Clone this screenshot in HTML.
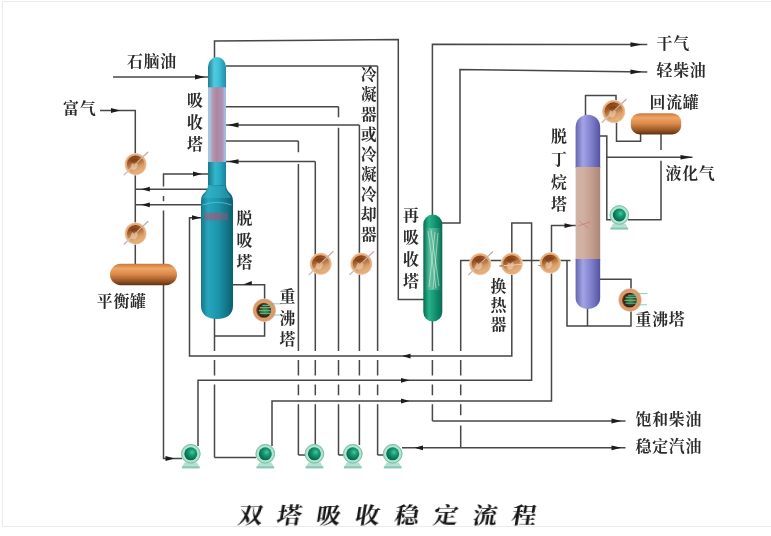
<!DOCTYPE html>
<html lang="zh-CN">
<head>
<meta charset="utf-8">
<title>双塔吸收稳定流程</title>
<style>
html,body{margin:0;padding:0;background:#fff;}
body{width:771px;height:536px;overflow:hidden;position:relative;}
svg{display:block;position:absolute;left:0;top:0;}
.lbl text{font-family:"Liberation Serif","Noto Serif CJK SC",serif;font-weight:700;fill:#2c2c2c;}
.title{font-family:"Liberation Serif","Noto Serif CJK SC",serif;font-weight:700;fill:#151515;}
</style>
</head>
<body>
<svg width="771" height="536" viewBox="0 0 771 536">
<defs>
  <linearGradient id="gTealCap" x1="0" x2="1" y1="0" y2="0">
    <stop offset="0" stop-color="#1c7f90"/><stop offset=".35" stop-color="#4fcbe0"/><stop offset=".6" stop-color="#3fc0d8"/><stop offset="1" stop-color="#1f8fa6"/>
  </linearGradient>
  <linearGradient id="gTealN" x1="0" x2="1" y1="0" y2="0">
    <stop offset="0" stop-color="#19788a"/><stop offset=".4" stop-color="#35b6cd"/><stop offset=".65" stop-color="#2aa9c2"/><stop offset="1" stop-color="#17839a"/>
  </linearGradient>
  <linearGradient id="gTealW" x1="0" x2="1" y1="0" y2="0">
    <stop offset="0" stop-color="#167688"/><stop offset=".22" stop-color="#27a6bd"/><stop offset=".55" stop-color="#1b93aa"/><stop offset="1" stop-color="#0d5f70"/>
  </linearGradient>
  <linearGradient id="gPack1" x1="0" x2="1" y1="0" y2="0">
    <stop offset="0" stop-color="#9acfe8"/><stop offset=".13" stop-color="#acbcd6"/><stop offset=".27" stop-color="#b396b4"/><stop offset=".5" stop-color="#ae84a0"/><stop offset=".8" stop-color="#ae92b4"/><stop offset=".92" stop-color="#a6b8d6"/><stop offset="1" stop-color="#90c8e6"/>
  </linearGradient>
  <linearGradient id="gGreen" x1="0" x2="1" y1="0" y2="0">
    <stop offset="0" stop-color="#0a6a52"/><stop offset=".3" stop-color="#27b389"/><stop offset=".6" stop-color="#129572"/><stop offset="1" stop-color="#0a6a52"/>
  </linearGradient>
  <linearGradient id="gGreenMid" x1="0" x2="1" y1="0" y2="0">
    <stop offset="0" stop-color="#2a8a6c"/><stop offset=".35" stop-color="#a9d9c4"/><stop offset=".65" stop-color="#7fc4a8"/><stop offset="1" stop-color="#1d8263"/>
  </linearGradient>
  <linearGradient id="gPurple" x1="0" x2="1" y1="0" y2="0">
    <stop offset="0" stop-color="#6664ae"/><stop offset=".3" stop-color="#a3a3e6"/><stop offset=".6" stop-color="#8383cf"/><stop offset="1" stop-color="#5654a0"/>
  </linearGradient>
  <linearGradient id="gPack2" x1="0" x2="1" y1="0" y2="0">
    <stop offset="0" stop-color="#cdb3a6"/><stop offset=".3" stop-color="#d2b0a2"/><stop offset=".65" stop-color="#c49e90"/><stop offset="1" stop-color="#a98677"/>
  </linearGradient>
  <linearGradient id="gTank" x1="0" x2="0" y1="0" y2="1">
    <stop offset="0" stop-color="#c97a3e"/><stop offset=".22" stop-color="#f0a565"/><stop offset=".5" stop-color="#d98848"/><stop offset=".8" stop-color="#9a5626"/><stop offset="1" stop-color="#5d3215"/>
  </linearGradient>
  <radialGradient id="gEx" cx=".5" cy=".5" r=".5">
    <stop offset="0" stop-color="#d9a067"/><stop offset=".72" stop-color="#dfa570"/><stop offset=".88" stop-color="#e5ae80"/><stop offset=".95" stop-color="#efc9a8"/><stop offset="1" stop-color="#fbeee2"/>
  </radialGradient>
  <linearGradient id="gExIn" x1=".25" x2=".65" y1="0" y2="1">
    <stop offset="0" stop-color="#7a3610"/><stop offset=".35" stop-color="#a55f2c"/><stop offset=".7" stop-color="#d79c62"/><stop offset="1" stop-color="#e6b684"/>
  </linearGradient>
  <radialGradient id="gRb" cx=".5" cy=".5" r=".5">
    <stop offset="0" stop-color="#c98a55"/><stop offset=".7" stop-color="#d6a06c"/><stop offset=".9" stop-color="#dc9670"/><stop offset="1" stop-color="#f3cdb0"/>
  </radialGradient>
  <radialGradient id="gRbIn" cx=".58" cy=".5" r=".52">
    <stop offset="0" stop-color="#4f9a63"/><stop offset=".5" stop-color="#2f5a35"/><stop offset=".85" stop-color="#3a1c0c"/><stop offset="1" stop-color="#6b3a1c"/>
  </radialGradient>
  <radialGradient id="gPuO" cx=".5" cy=".5" r=".5">
    <stop offset="0" stop-color="#c4ebdc"/><stop offset=".8" stop-color="#b3e3d2"/><stop offset="1" stop-color="#9ad4bd"/>
  </radialGradient>
  <radialGradient id="gPuI" cx=".6" cy=".38" r=".62">
    <stop offset="0" stop-color="#46c9a0"/><stop offset=".4" stop-color="#159a72"/><stop offset="1" stop-color="#09644a"/>
  </radialGradient>
  <filter id="soft" x="-2%" y="-2%" width="104%" height="104%"><feGaussianBlur stdDeviation="0.45"/></filter>
</defs>
<rect x="0" y="0" width="771" height="536" fill="#ffffff"/>
<!-- frame -->
<path d="M771,1.5 H2.5 V526.5 H771" fill="none" stroke="#ececea" stroke-width="1.2"/>

<g filter="url(#soft)">
<!-- pipes -->
<g fill="none" stroke="#464646" stroke-width="1.5" stroke-linecap="butt" stroke-linejoin="miter">
<path d="M113,77 L208,77"/>
<path d="M100,110.5 L135.3,110.5 L135.3,265"/>
<path d="M214.5,58 L214.5,41 L398.3,39.5 L398.3,299.5 L424,299.5"/>
<path d="M226,66 L377.6,66"/>
<path d="M377.6,66 V350.9 M377.6,359.9 V375.5 M377.6,384.5 V395.3 M377.6,404.3 V455"/>
<path d="M377.6,455 L386,455"/>
<path d="M226,106.8 L338.5,106.8"/>
<path d="M338.5,106.8 V117.3 M338.5,127.7 V350.9 M338.5,359.9 V375.5 M338.5,384.5 V395.3 M338.5,404.3 V455"/>
<path d="M338.5,455 L346,455"/>
<path d="M226,125 L359.4,125"/>
<path d="M359.4,125 V350.9 M359.4,359.9 V375.5 M359.4,384.5 V395.3 M359.4,404.3 V445"/>
<path d="M226,141 L298.4,141"/>
<path d="M298.4,141 V152.3 M298.4,164.1 V350.9 M298.4,359.9 V375.5 M298.4,384.5 V395.3 M298.4,404.3 V455"/>
<path d="M298.4,455 L306,455"/>
<path d="M226,161.6 L315.3,161.6"/>
<path d="M315.3,161.6 V350.9 M315.3,359.9 V375.5 M315.3,384.5 V395.3 M315.3,404.3 V445"/>
<path d="M163.5,186.6 L163.5,174 L208,174"/>
<path d="M163.5,196 L163.5,201.2"/>
<path d="M163.5,210.5 L163.5,458.5 L182,458.5"/>
<path d="M209,189.2 L135.3,189.2"/>
<path d="M202,204.8 L135.3,204.8"/>
<path d="M203,217.7 L189.5,217.7 L189.5,356.1 L511.8,356.1 L511.8,223 L531.6,223 L531.6,380.3 L198,380.3 L198,446"/>
<path d="M214.5,318 V350.9 M214.5,359.9 V375.5 M214.5,384.5 V457.5"/>
<path d="M214.5,457.5 L256,457.5"/>
<path d="M214.5,336 L264.6,336 L264.6,284.7 L232.5,284.7"/>
<path d="M272,446 L272,401 L551.5,401 L551.5,225.6 L576,225.6"/>
<path d="M432.4,215 L432.4,44.2 L647.3,44.6"/>
<path d="M442,223 L460,223 L460,69.6 L647.3,71.9"/>
<path d="M432.4,321 V350.9 M432.4,359.9 V375.5 M432.4,384.5 V395.3 M432.4,404.3 V421"/>
<path d="M432.4,421 L625.5,421"/>
<path d="M460.7,260.5 V350.9 M460.7,359.9 V375.5 M460.7,384.5 V395.3 M460.7,404.3 V415.2 M460.7,425.6 V447.8"/>
<path d="M402,447.8 L625.5,447.8"/>
<path d="M460.7,261 L460.7,260.5 L570.5,260.5"/>
<path d="M567,260.5 L567,326 L631,326 L631,311"/>
<path d="M587.5,308 L587.5,326"/>
<path d="M600,279.3 L631,279.3 L631,290"/>
<path d="M585.5,116 L585.5,95.6 L616,95.6 L616,101"/>
<path d="M616.5,122 L616.5,141.3 L640.6,141.3 L640.6,133"/>
<path d="M661,133 L661,150"/>
<path d="M661,160.8 L661,219.8 L628,219.8"/>
<path d="M600,136 L606.8,136 L606.8,219.8 L611,219.8"/>
<path d="M606.8,157.2 L692.5,157.2"/>
</g>
<g fill="#1a1a1a" stroke="none"><polygon points="205,77 195,74.6 195,79.4"/><polygon points="120,110.5 111,108.1 111,112.9"/><polygon points="227.5,125 238.5,122.6 238.5,127.4"/><polygon points="227.5,161.6 238.5,159.2 238.5,164"/><polygon points="202,174 193,171.6 193,176.4"/><polygon points="174.5,458.5 165.5,456.1 165.5,460.9"/><polygon points="141.3,189.2 149.8,186.8 149.8,191.6"/><polygon points="141.3,204.8 149.8,202.4 149.8,207.2"/><polygon points="201,217.7 192,215.3 192,220.1"/><polygon points="402,356.1 410.5,353.7 410.5,358.5"/><polygon points="409.5,380.3 401,377.9 401,382.7"/><polygon points="243.3,284.6 251.8,281 251.8,285"/><polygon points="409.5,401 401,398.6 401,403.4"/><polygon points="573.5,225.6 564.5,223.2 564.5,228"/><polygon points="642,44.6 630.5,42.2 630.5,47"/><polygon points="642,71.85 630.5,69.45 630.5,74.25"/><polygon points="621.5,421 611.5,418.6 611.5,423.4"/><polygon points="621.5,447.8 611.5,445.4 611.5,450.2"/><polygon points="414.5,447.8 423,445.4 423,450.2"/><polygon points="692.5,157.2 680.5,154.9 680.5,159.5"/></g>

<!-- tanks -->
<rect x="110" y="263.8" width="67" height="21.4" rx="10.7" fill="url(#gTank)"/>
<rect x="630.8" y="113.2" width="50.4" height="21.2" rx="9" fill="url(#gTank)"/>

<!-- absorber / desorber tower -->
<g>
  <path d="M208,67 A9,10 0 0 1 226,67 V88 H208 Z" fill="url(#gTealCap)"/>
  <rect x="208" y="87.3" width="18" height="75" fill="url(#gPack1)"/>
  <rect x="208" y="162" width="18" height="29.5" fill="url(#gTealN)"/>
  <path d="M208,185 H226 C226,193 233,192 233,201 V306 C233,315 226,319 217,319 C208,319 201,315 201,306 V201 C201,192 208,193 208,185 Z" fill="url(#gTealW)"/>
  <path d="M209,186 H225 C225,192 229,193 231,198 H203 C205,193 209,192 209,186 Z" fill="#3fc3d8" opacity=".35"/>
  <path d="M202.5,205 Q217,199.5 231.5,205" fill="none" stroke="#58c9da" stroke-width="1.2" opacity=".7"/>
  <rect x="204" y="212.5" width="24" height="8" rx="2" fill="#b84a6a" opacity=".42"/>
  <path d="M207,218.5 L222,214 M209,214.5 L219,219" stroke="#d84868" stroke-width="1.1" opacity=".55"/>
</g>

<!-- re-absorber tower -->
<g>
  <rect x="423.3" y="214.6" width="19" height="107" rx="9.5" fill="url(#gGreen)"/>
  <rect x="425.3" y="228" width="15.4" height="62" fill="url(#gGreenMid)" opacity=".48"/>
  <path d="M428,231 L436,288 M431,230 L439,286 M435,232 L429,287 M438,233 L433,289" stroke="#e6f5ee" stroke-width=".9" opacity=".6" fill="none"/>
</g>

<!-- debutanizer tower -->
<g>
  <path d="M575.6,127 A12.3,12.3 0 0 1 600.2,127 V168 H575.6 Z" fill="url(#gPurple)"/>
  <rect x="575.6" y="167" width="24.6" height="93" fill="url(#gPack2)"/>
  <path d="M575.6,259 H600.2 V298 C600.2,305 594,309 587.9,309 C581.8,309 575.6,305 575.6,298 Z" fill="url(#gPurple)"/>
  <path d="M578,226 L590,222 M579,221 L588,228" stroke="#c0606a" stroke-width="1" opacity=".5"/>
</g>

<!-- exchangers, reboilers, pumps -->
<g transform="translate(135.6,164.2)"><line x1="-11.8" y1="11" x2="12.6" y2="-12.4" stroke="#c4aea6" stroke-width="1.1"/><circle r="11.2" fill="url(#gEx)"/><circle r="8.6" fill="url(#gExIn)"/><ellipse cx="-0.5" cy="2.2" rx="3.2" ry="4.2" fill="#f3d9c6" opacity=".55" transform="rotate(25)"/><path d="M-5.5,-3.5 Q-1,-7.5 4.5,-4.5 Q1,-3 -1.5,0 Z" fill="#7c3a12" opacity=".7"/><line x1="1.5" y1="-1.8" x2="12.6" y2="-12.4" stroke="#c9b2aa" stroke-width="1.1"/><line x1="-11.8" y1="11" x2="-3" y2="2.6" stroke="#d9c0b8" stroke-width="1.1"/></g>
<g transform="translate(135.6,233.5)"><line x1="-11.8" y1="11" x2="12.6" y2="-12.4" stroke="#c4aea6" stroke-width="1.1"/><circle r="11.2" fill="url(#gEx)"/><circle r="8.6" fill="url(#gExIn)"/><ellipse cx="-0.5" cy="2.2" rx="3.2" ry="4.2" fill="#f3d9c6" opacity=".55" transform="rotate(25)"/><path d="M-5.5,-3.5 Q-1,-7.5 4.5,-4.5 Q1,-3 -1.5,0 Z" fill="#7c3a12" opacity=".7"/><line x1="1.5" y1="-1.8" x2="12.6" y2="-12.4" stroke="#c9b2aa" stroke-width="1.1"/><line x1="-11.8" y1="11" x2="-3" y2="2.6" stroke="#d9c0b8" stroke-width="1.1"/></g>
<g transform="translate(320.7,263.8)"><line x1="-11.8" y1="11" x2="12.6" y2="-12.4" stroke="#c4aea6" stroke-width="1.1"/><circle r="11.2" fill="url(#gEx)"/><circle r="8.6" fill="url(#gExIn)"/><ellipse cx="-0.5" cy="2.2" rx="3.2" ry="4.2" fill="#f3d9c6" opacity=".55" transform="rotate(25)"/><path d="M-5.5,-3.5 Q-1,-7.5 4.5,-4.5 Q1,-3 -1.5,0 Z" fill="#7c3a12" opacity=".7"/><line x1="1.5" y1="-1.8" x2="12.6" y2="-12.4" stroke="#c9b2aa" stroke-width="1.1"/><line x1="-11.8" y1="11" x2="-3" y2="2.6" stroke="#d9c0b8" stroke-width="1.1"/></g>
<g transform="translate(361.3,263.8)"><line x1="-11.8" y1="11" x2="12.6" y2="-12.4" stroke="#c4aea6" stroke-width="1.1"/><circle r="11.2" fill="url(#gEx)"/><circle r="8.6" fill="url(#gExIn)"/><ellipse cx="-0.5" cy="2.2" rx="3.2" ry="4.2" fill="#f3d9c6" opacity=".55" transform="rotate(25)"/><path d="M-5.5,-3.5 Q-1,-7.5 4.5,-4.5 Q1,-3 -1.5,0 Z" fill="#7c3a12" opacity=".7"/><line x1="1.5" y1="-1.8" x2="12.6" y2="-12.4" stroke="#c9b2aa" stroke-width="1.1"/><line x1="-11.8" y1="11" x2="-3" y2="2.6" stroke="#d9c0b8" stroke-width="1.1"/></g>
<g transform="translate(480.2,264)"><line x1="-11.8" y1="11" x2="12.6" y2="-12.4" stroke="#c4aea6" stroke-width="1.1"/><circle r="11.2" fill="url(#gEx)"/><circle r="8.6" fill="url(#gExIn)"/><ellipse cx="-0.5" cy="2.2" rx="3.2" ry="4.2" fill="#f3d9c6" opacity=".55" transform="rotate(25)"/><path d="M-5.5,-3.5 Q-1,-7.5 4.5,-4.5 Q1,-3 -1.5,0 Z" fill="#7c3a12" opacity=".7"/><line x1="1.5" y1="-1.8" x2="12.6" y2="-12.4" stroke="#c9b2aa" stroke-width="1.1"/><line x1="-11.8" y1="11" x2="-3" y2="2.6" stroke="#d9c0b8" stroke-width="1.1"/></g>
<g transform="translate(511.8,263.8)"><circle r="11.2" fill="url(#gEx)"/><circle r="8.6" fill="url(#gExIn)"/><ellipse cx="-0.5" cy="2.2" rx="3.2" ry="4.2" fill="#f3d9c6" opacity=".55" transform="rotate(25)"/><path d="M-5.5,-3.5 Q-1,-7.5 4.5,-4.5 Q1,-3 -1.5,0 Z" fill="#7c3a12" opacity=".7"/><line x1="-12.5" y1="2.2" x2="11.5" y2="0.4" stroke="#ecc9b4" stroke-width="1.1"/><line x1="-12.5" y1="2.2" x2="-8" y2="1.9" stroke="#8a6a55" stroke-width="1.1"/></g>
<g transform="translate(550.2,262.9)"><circle r="10.8" fill="url(#gEx)"/><circle r="8.2" fill="url(#gExIn)"/><ellipse cx="-0.5" cy="2.2" rx="3.2" ry="4.2" fill="#f3d9c6" opacity=".55" transform="rotate(25)"/><path d="M-5.5,-3.5 Q-1,-7.5 4.5,-4.5 Q1,-3 -1.5,0 Z" fill="#7c3a12" opacity=".7"/><line x1="-12" y1="2.6" x2="-4" y2="3.4" stroke="#b98a66" stroke-width="1"/></g>
<g transform="translate(613.7,111.5)"><line x1="-11.8" y1="11" x2="12.6" y2="-12.4" stroke="#c4aea6" stroke-width="1.1"/><circle r="11.8" fill="url(#gEx)"/><circle r="9.2" fill="url(#gExIn)"/><ellipse cx="-0.5" cy="2.2" rx="3.2" ry="4.2" fill="#f3d9c6" opacity=".55" transform="rotate(25)"/><path d="M-5.5,-3.5 Q-1,-7.5 4.5,-4.5 Q1,-3 -1.5,0 Z" fill="#7c3a12" opacity=".7"/><line x1="1.5" y1="-1.8" x2="12.6" y2="-12.4" stroke="#c9b2aa" stroke-width="1.1"/><line x1="-11.8" y1="11" x2="-3" y2="2.6" stroke="#d9c0b8" stroke-width="1.1"/></g>
<g transform="translate(264.3,310.2)"><circle r="11.7" fill="url(#gRb)"/><circle r="7.4" cx="-0.6" cy="0.2" fill="url(#gRbIn)"/><path d="M-4.5,-2.6 H7 M-5.5,0.4 H6.5 M-4.5,3.2 H7 M-2,-4.8 H6" stroke="#63b585" stroke-width="1.1" fill="none" opacity=".95"/><path d="M7,-6.4 H17.5 M8,4.8 H17" stroke="#6fb7a0" stroke-width="1" fill="none" opacity=".75"/></g>
<g transform="translate(630,300)"><circle r="11.7" fill="url(#gRb)"/><circle r="7.4" cx="-0.6" cy="0.2" fill="url(#gRbIn)"/><path d="M-4.5,-2.6 H7 M-5.5,0.4 H6.5 M-4.5,3.2 H7 M-2,-4.8 H6" stroke="#63b585" stroke-width="1.1" fill="none" opacity=".95"/><path d="M7,-6.4 H17.5 M8,4.8 H17" stroke="#6fb7a0" stroke-width="1" fill="none" opacity=".75"/></g>
<g transform="translate(190.8,453.8)"><path d="M-6.2,8.6 L-8.6,13.2 H8.6 L6.2,8.6 Z" fill="#b4e0d0"/><rect x="-8.9" y="12.6" width="17.8" height="2" fill="#86c7ae"/><circle r="9.7" fill="url(#gPuO)"/><circle r="9.3" fill="none" stroke="#77bfa2" stroke-width=".9"/><circle r="6.5" fill="url(#gPuI)"/></g>
<g transform="translate(265.3,453.8)"><path d="M-6.2,8.6 L-8.6,13.2 H8.6 L6.2,8.6 Z" fill="#b4e0d0"/><rect x="-8.9" y="12.6" width="17.8" height="2" fill="#86c7ae"/><circle r="9.7" fill="url(#gPuO)"/><circle r="9.3" fill="none" stroke="#77bfa2" stroke-width=".9"/><circle r="6.5" fill="url(#gPuI)"/></g>
<g transform="translate(314.4,453.8)"><path d="M-6.2,8.6 L-8.6,13.2 H8.6 L6.2,8.6 Z" fill="#b4e0d0"/><rect x="-8.9" y="12.6" width="17.8" height="2" fill="#86c7ae"/><circle r="9.7" fill="url(#gPuO)"/><circle r="9.3" fill="none" stroke="#77bfa2" stroke-width=".9"/><circle r="6.5" fill="url(#gPuI)"/></g>
<g transform="translate(352.8,453.8)"><path d="M-6.2,8.6 L-8.6,13.2 H8.6 L6.2,8.6 Z" fill="#b4e0d0"/><rect x="-8.9" y="12.6" width="17.8" height="2" fill="#86c7ae"/><circle r="9.7" fill="url(#gPuO)"/><circle r="9.3" fill="none" stroke="#77bfa2" stroke-width=".9"/><circle r="6.5" fill="url(#gPuI)"/></g>
<g transform="translate(392.7,453.8)"><path d="M-6.2,8.6 L-8.6,13.2 H8.6 L6.2,8.6 Z" fill="#b4e0d0"/><rect x="-8.9" y="12.6" width="17.8" height="2" fill="#86c7ae"/><circle r="9.7" fill="url(#gPuO)"/><circle r="9.3" fill="none" stroke="#77bfa2" stroke-width=".9"/><circle r="6.5" fill="url(#gPuI)"/></g>
<g transform="translate(619.3,215)"><path d="M-6.2,8.6 L-8.6,13.2 H8.6 L6.2,8.6 Z" fill="#b4e0d0"/><rect x="-8.9" y="12.6" width="17.8" height="2" fill="#86c7ae"/><circle r="9.7" fill="url(#gPuO)"/><circle r="9.3" fill="none" stroke="#77bfa2" stroke-width=".9"/><circle r="6.5" fill="url(#gPuI)"/></g>

<!-- labels -->
<g class="lbl">
<text x="127" y="66.974" font-size="15.9" letter-spacing="0.75">石脑油</text>
<text x="63" y="113.874" font-size="15.9" letter-spacing="0.75">富气</text>
<text font-size="15.9" text-anchor="middle"><tspan x="195" y="106.274">吸</tspan><tspan x="195" y="128.074">收</tspan><tspan x="195" y="149.874">塔</tspan></text>
<text font-size="15.9" text-anchor="middle"><tspan x="368.8" y="80.374">冷</tspan><tspan x="368.8" y="100.294">凝</tspan><tspan x="368.8" y="120.214">器</tspan><tspan x="368.8" y="140.134">或</tspan><tspan x="368.8" y="160.054">冷</tspan><tspan x="368.8" y="179.974">凝</tspan><tspan x="368.8" y="199.894">冷</tspan><tspan x="368.8" y="219.814">却</tspan><tspan x="368.8" y="239.734">器</tspan></text>
<text font-size="15.9" text-anchor="middle"><tspan x="244.5" y="223.574">脱</tspan><tspan x="244.5" y="245.574">吸</tspan><tspan x="244.5" y="267.574">塔</tspan></text>
<text x="96.8" y="306.674" font-size="15.9" letter-spacing="0.75">平衡罐</text>
<text font-size="15.9" text-anchor="middle"><tspan x="287.5" y="302.074">重</tspan><tspan x="287.5" y="323.574">沸</tspan><tspan x="287.5" y="345.074">塔</tspan></text>
<text font-size="15.9" text-anchor="middle"><tspan x="411" y="221.374">再</tspan><tspan x="411" y="243.374">吸</tspan><tspan x="411" y="265.374">收</tspan><tspan x="411" y="287.374">塔</tspan></text>
<text font-size="15.9" text-anchor="middle"><tspan x="498.5" y="292.074">换</tspan><tspan x="498.5" y="311.274">热</tspan><tspan x="498.5" y="330.474">器</tspan></text>
<text font-size="15.9" text-anchor="middle"><tspan x="559" y="142.074">脱</tspan><tspan x="559" y="164.874">丁</tspan><tspan x="559" y="187.674">烷</tspan><tspan x="559" y="210.474">塔</tspan></text>
<text x="656.5" y="48.674" font-size="15.9" letter-spacing="0.75">干气</text>
<text x="656.5" y="76.374" font-size="15.9" letter-spacing="0.75">轻柴油</text>
<text x="649.5" y="107.674" font-size="15.9" letter-spacing="0.75">回流罐</text>
<text x="665.5" y="179.274" font-size="15.9" letter-spacing="0.75">液化气</text>
<text x="635.5" y="325.374" font-size="15.9" letter-spacing="0.75">重沸塔</text>
<text x="635.6" y="424.674" font-size="15.9" letter-spacing="0.75">饱和柴油</text>
<text x="635.6" y="451.674" font-size="15.9" letter-spacing="0.75">稳定汽油</text>
</g>
<text class="title" font-size="22" letter-spacing="12.95" transform="translate(237,523.2) skewX(-9) scale(1.12,0.96)">双塔吸收稳定流程</text>
</g>
</svg>
</body>
</html>
